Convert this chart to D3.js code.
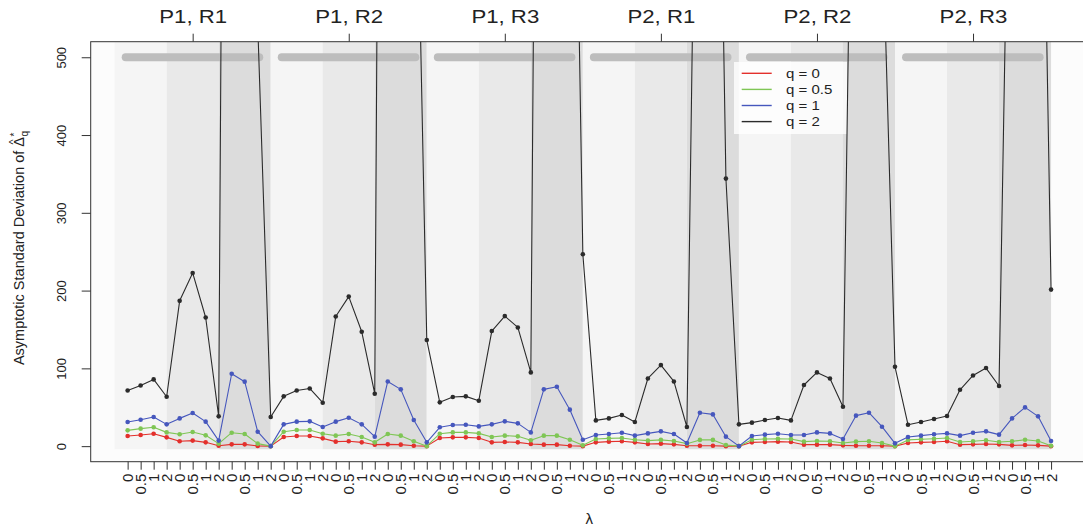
<!DOCTYPE html>
<html>
<head>
<meta charset="utf-8">
<script src="https://cdn.jsdelivr.net/npm/d3@7"></script>
<style>
  html, body { margin: 0; padding: 0; background: #ffffff; }
  svg { display: block; font-family: "Liberation Sans", Arial, Helvetica, sans-serif; }
</style>
</head>
<body>
<svg id="chart" width="1083" height="531"></svg>
<script>
// Panel labels, lambda tick labels, legend labels
const panels = ["P1, R1", "P1, R2", "P1, R3", "P2, R1", "P2, R2", "P2, R3"];
const lambdas = ["0", "0.5", "1", "2"];
const qLabels = ["q = 0", "q = 0.5", "q = 1", "q = 2"];
const yTicks = [0, 100, 200, 300, 400, 500];

// Asymptotic SD per point: 6 panels x 3 groups x 4 lambda values
const sdQ0 = [
  13.1, 14.4, 16.0, 11.3,  6.2, 7.1, 4.9, 0.6,  2.3, 2.3, 0.3, 0,
  11.8, 13.1, 13.1, 10.0,  5.8, 6.2, 4.9, 1.9,  2.3, 1.9, 0.6, 0,
  10.5, 11.3, 11.3, 10.5,  4.9, 5.4, 4.9, 2.8,  1.9, 1.9, 0.6, 0,
  4.9, 5.8, 6.2, 4.9,      2.8, 3.2, 2.3, 0.6,  0.6, 0.6, 0, 0,
  4.9, 5.4, 5.8, 5.4,      1.9, 1.9, 1.9, 1.0,  0.6, 0.6, 0.6, 0,
  4.1, 4.9, 5.4, 6.2,      1.9, 2.3, 2.8, 2.3,  1.0, 1.5, 1.0, 0
];
const sdQ05 = [
  20.3, 22.5, 24.2, 17.7,  15.2, 18.2, 13.9, 3.2,  17.3, 15.6, 3.2, 0,
  18.6, 20.7, 20.7, 16.0,  13.5, 15.6, 11.8, 4.9,  15.6, 13.5, 6.2, 0,
  16.0, 17.7, 17.7, 16.4,  11.8, 13.5, 12.6, 7.5,  13.5, 13.5, 8.3, 1.0,
  9.2, 10.0, 10.5, 8.3,    7.1, 8.0, 6.7, 3.2,     8.0, 8.0, 1.5, 0,
  8.3, 9.2, 9.6, 9.2,      5.8, 6.7, 6.2, 4.1,     5.8, 6.2, 4.1, 0,
  8.0, 8.8, 9.6, 10.5,     5.4, 6.2, 7.5, 5.4,     6.2, 8.3, 6.7, 0.6
];
const sdQ1 = [
  31.1, 34.0, 37.5, 28.0,  35.7, 42.6, 31.5, 7.1,   93.1, 82.9, 18.6, 0,
  28.0, 31.5, 31.9, 24.6,  31.5, 36.6, 28.0, 12.2,  83.2, 73.0, 33.6, 4.9,
  24.2, 27.2, 27.6, 25.4,  28.0, 31.9, 29.3, 17.7,  73.0, 76.4, 46.9, 8.3,
  14.4, 15.6, 17.3, 13.5,  16.4, 19.0, 15.6, 4.1,   43.0, 40.8, 12.2, 0,
  13.1, 14.8, 16.0, 14.4,  14.4, 17.7, 16.4, 9.2,   39.2, 43.0, 25.0, 3.6,
  11.8, 13.5, 15.2, 16.4,  13.5, 17.3, 19.0, 14.8,  35.7, 49.8, 38.3, 6.7
];
const sdQ2 = [
  71.6, 78.0, 85.8, 63.5,  186.8, 222.7, 165.4, 38.3,  2763, 1500, 543, 37.5,
  64.0, 71.6, 74.2, 55.8,  166.6, 192.3, 147.0, 67.4,  2871, 1800, 953, 136.4,
  56.3, 63.2, 64.0, 58.4,  148.0, 167.2, 152.6, 94.8,  2307, 1700, 1259, 246.7,
  33.1, 35.7, 40.0, 31.1,  87.0, 104.2, 83.2, 24.6,    1218, 1350, 344, 28.0,
  30.2, 33.6, 36.2, 33.1,  78.6, 94.8, 87.0, 50.7,     1180, 900, 692, 102.0,
  27.6, 31.1, 34.9, 38.8,  72.5, 90.9, 100.4, 77.3,    1036, 1100, 1168, 201.3
];

const series = [sdQ0, sdQ05, sdQ1, sdQ2];
const seriesColors = ["#e3302c", "#7fc655", "#4657bd", "#2b2b2b"];
const bandColors = ["#f5f5f5", "#e9e9e9", "#dcdcdc"];

const nPoints = sdQ0.length;
const perPanel = 12, perGroup = 4;

const svg = d3.select("#chart");
const W = 1083, H = 531;
const plotLeft = 90.7, plotRight = 1088, plotTop = 41.7, plotBottom = 461.7;

const x = d3.scaleLinear().domain([-2.84, nPoints - 1 + 2.84]).range([plotLeft, plotRight]);
const y = d3.scaleLinear().domain([-20, 520]).range([plotBottom, plotTop]);

svg.append("rect").attr("width", W).attr("height", H).attr("fill", "#ffffff");

svg.append("defs").append("clipPath").attr("id", "plotClip")
  .append("rect").attr("x", plotLeft).attr("y", plotTop)
  .attr("width", plotRight - plotLeft).attr("height", plotBottom - plotTop);

const plot = svg.append("g").attr("clip-path", "url(#plotClip)");

plot.append("rect").attr("x", plotLeft).attr("y", plotTop)
  .attr("width", plotRight - plotLeft).attr("height", plotBottom - plotTop).attr("fill", "#fcfcfc");

// shaded bands: one per group, spanning from the previous index to the group's last index
const bands = [];
panels.forEach((p, pi) => {
  for (let g = 0; g < 3; g++) {
    const start = pi * perPanel + g * perGroup;
    bands.push({ x0: start - 1, x1: start + perGroup - 1, g });
  }
});
plot.selectAll("rect.band").data(bands).enter().append("rect")
  .attr("class", "band")
  .attr("x", d => x(d.x0)).attr("width", d => x(d.x1) - x(d.x0))
  .attr("y", y(520)).attr("height", y(-4) - y(520))
  .attr("fill", d => bandColors[d.g]);

// grey reference bar at 500 across each panel
plot.selectAll("line.cap").data(panels).enter().append("line")
  .attr("class", "cap")
  .attr("x1", (d, i) => x(i * perPanel - 0.15))
  .attr("x2", (d, i) => x(i * perPanel + 10.12))
  .attr("y1", y(500)).attr("y2", y(500))
  .attr("stroke", "#bdbdbd").attr("stroke-width", 8).attr("stroke-linecap", "round");

// legend background
plot.append("rect").attr("x", 734).attr("y", 62).attr("width", 113).attr("height", 72)
  .attr("fill", "#ffffff").attr("opacity", 0.8);

// series lines and points
const line = d3.line().x((d, i) => x(i)).y(d => y(d));
series.forEach((vals, si) => {
  plot.append("path").datum(vals)
    .attr("d", line).attr("fill", "none")
    .attr("stroke", seriesColors[si]).attr("stroke-width", 1.1)
    .attr("stroke-linejoin", "round");
  plot.selectAll(null).data(vals).enter().append("circle")
    .attr("cx", (d, i) => x(i)).attr("cy", d => y(d)).attr("r", 2.3)
    .attr("fill", seriesColors[si]);
});

// legend
const legend = svg.append("g");
qLabels.forEach((lab, i) => {
  const ly = 73.3 + i * 16.1;
  legend.append("line").attr("x1", 741.7).attr("x2", 771.7).attr("y1", ly).attr("y2", ly)
    .attr("stroke", seriesColors[i]).attr("stroke-width", 1.4);
  legend.append("text").attr("transform", `translate(786,${ly + 4.5}) scale(1.2,1)`)
    .attr("font-size", 12.5).attr("fill", "#222").text(lab);
});

// plot frame
svg.append("rect").attr("x", plotLeft).attr("y", plotTop)
  .attr("width", plotRight - plotLeft).attr("height", plotBottom - plotTop)
  .attr("fill", "none").attr("stroke", "#333").attr("stroke-width", 1);

// bottom axis: lambda at every point
const xAxis = d3.axisBottom(x).tickValues(d3.range(nPoints))
  .tickFormat(j => lambdas[j % perGroup]).tickSize(8).tickPadding(0);
const gx = svg.append("g").attr("transform", `translate(0,${plotBottom})`).call(xAxis);
gx.select(".domain").remove();
gx.selectAll(".tick line").attr("stroke", "#333");
gx.selectAll(".tick text")
  .attr("transform", "translate(5,12) rotate(-90)")
  .attr("x", 0).attr("y", 0).attr("dy", 0)
  .attr("text-anchor", "end").attr("font-size", 15).attr("fill", "#222");

// left axis
const yAxis = d3.axisLeft(y).tickValues(yTicks).tickSize(9).tickPadding(0);
const gy = svg.append("g").attr("transform", `translate(${plotLeft},0)`).call(yAxis);
gy.select(".domain").remove();
gy.selectAll(".tick line").attr("stroke", "#333");
gy.selectAll(".tick text")
  .attr("transform", "translate(-24.5,0) rotate(-90)")
  .attr("x", 0).attr("y", 0).attr("dy", 0)
  .attr("text-anchor", "middle").attr("font-size", 13).attr("fill", "#222");

// top axis: panel names
const topAxis = d3.axisTop(x).tickValues(panels.map((p, i) => i * perPanel + 5))
  .tickFormat((d, i) => panels[i]).tickSize(8).tickPadding(0);
const gt = svg.append("g").attr("transform", `translate(0,${plotTop})`).call(topAxis);
gt.select(".domain").remove();
gt.selectAll(".tick line").attr("stroke", "#333");
gt.selectAll(".tick text")
  .attr("transform", "translate(0,-18.5) scale(1.2,1)")
  .attr("x", 0).attr("y", 0).attr("dy", 0)
  .attr("text-anchor", "middle").attr("font-size", 18.5).attr("fill", "#222");

// axis titles
svg.append("text").attr("transform", `translate(${(plotLeft + plotRight) / 2},524)`)
  .attr("text-anchor", "middle").attr("font-size", 15).attr("fill", "#222").text("λ");

const yt = svg.append("text").attr("transform", "translate(24,248) rotate(-90)")
  .attr("text-anchor", "middle").attr("font-size", 14.5).attr("fill", "#222");
yt.append("tspan").text("Asymptotic Standard Deviation of Δ");
yt.append("tspan").attr("font-size", 11).attr("dx", -7.45).attr("dy", -7).text("^");
yt.append("tspan").attr("font-size", 10).attr("dx", 2.75).attr("dy", 10.5).text("q");
yt.append("tspan").attr("font-size", 10).attr("dx", -5.56).attr("dy", -9.5).text("*");
</script>
</body>
</html>
